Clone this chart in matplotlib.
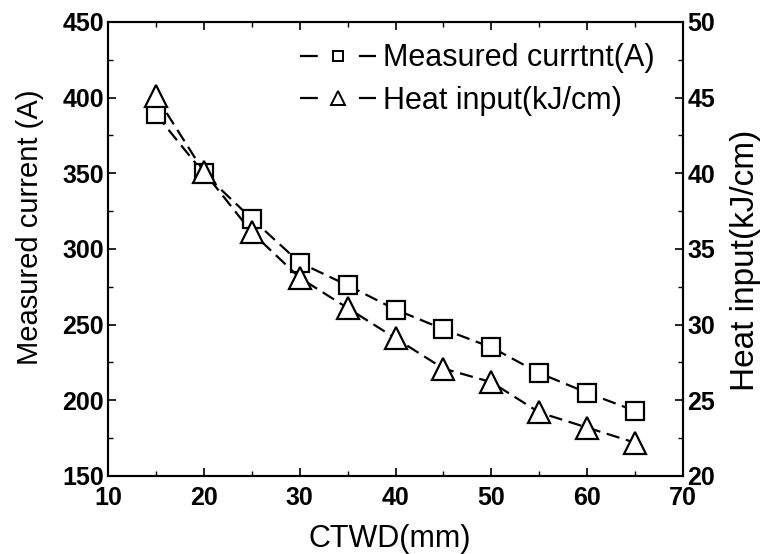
import matplotlib
matplotlib.use("Agg")
import matplotlib.pyplot as plt
from matplotlib.lines import Line2D
from matplotlib.ticker import MultipleLocator

ctwd = [15, 20, 25, 30, 35, 40, 45, 50, 55, 60, 65]
current = [389, 350, 320, 291, 276, 260, 247, 235, 218, 205, 193]
heat = [45.1, 40.1, 36.1, 33.1, 31.1, 29.1, 27.1, 26.2, 24.2, 23.2, 22.2]

x_ticks = [10, 20, 30, 40, 50, 60, 70]
left_ticks = [150, 200, 250, 300, 350, 400, 450]
right_ticks = [20, 25, 30, 35, 40, 45, 50]

sans = ["Liberation Sans", "DejaVu Sans"]

fig = plt.figure(figsize=(7.64, 5.54), dpi=100)
ax = fig.add_axes([0.1414, 0.1408, 0.7526, 0.8195])
ax2 = ax.twinx()

dash = (0, (6, 3))
lw = 1.6
ax.plot(ctwd, current, linestyle=dash, color="black", lw=lw,
        marker="s", markersize=13, markerfacecolor="white",
        markeredgecolor="black", markeredgewidth=1.6, zorder=3)
ax2.plot(ctwd, heat, linestyle=dash, color="black", lw=lw,
         marker="^", markersize=16.5, markerfacecolor="white",
         markeredgecolor="black", markeredgewidth=1.6, zorder=3)

ax.set_xlim(10, 70)
ax.set_ylim(150, 450)
ax2.set_ylim(20, 50)
ax.set_xticks(x_ticks)
ax.set_yticks(left_ticks)
ax2.set_yticks(right_ticks)
ax.xaxis.set_minor_locator(MultipleLocator(5))
ax.yaxis.set_minor_locator(MultipleLocator(25))
ax2.yaxis.set_minor_locator(MultipleLocator(2.5))

ax.tick_params(axis="both", which="major", direction="in", length=6, width=1.2,
               top=True, right=False)
ax.tick_params(axis="x", which="major", pad=7)
ax.tick_params(axis="y", which="major", pad=3)
ax.tick_params(axis="both", which="minor", direction="in", length=3.5, width=1.0,
               top=True, right=False)
ax2.tick_params(axis="y", which="major", direction="in", length=6, width=1.2, pad=3)
ax2.tick_params(axis="y", which="minor", direction="in", length=3.5, width=1.0)

for a in (ax, ax2):
    for sp in a.spines.values():
        sp.set_linewidth(1.5)

for lab in ax.get_xticklabels() + ax.get_yticklabels() + ax2.get_yticklabels():
    lab.set_fontfamily(sans)
    lab.set_fontweight("bold")
    lab.set_fontsize(18)

ax.set_xlabel("CTWD(mm)", fontsize=22, family=sans)
ax.set_ylabel("Measured current (A)", fontsize=21, family=sans)
ax2.set_ylabel("Heat input(kJ/cm)", fontsize=24, family=sans)
ax.xaxis.set_label_coords(0.49, -0.105)
ax.yaxis.set_label_coords(-0.112, 0.548)
ax2.yaxis.set_label_coords(1.082, 0.476)

# legend proxies: a short stroke on each side of a small open marker
seg = (0, (8, 18.5))
h1 = Line2D([], [], color="black", lw=lw, linestyle=seg, marker="s",
            markersize=7.5, markerfacecolor="white", markeredgecolor="black",
            markeredgewidth=1.4)
h2 = Line2D([], [], color="black", lw=lw, linestyle=seg, marker="^",
            markersize=9.5, markerfacecolor="white", markeredgecolor="black",
            markeredgewidth=1.4)
ax2.legend(handles=[h1, h2], labels=["Measured currtnt(A)", "Heat input(kJ/cm)"],
           loc="upper left", bbox_to_anchor=(0.334, 0.953),
           frameon=False, borderpad=0, borderaxespad=0,
           handlelength=2.5, handletextpad=0.2, labelspacing=0.4,
           prop={"family": sans, "size": 22})

fig.savefig("out.png", dpi=100)
